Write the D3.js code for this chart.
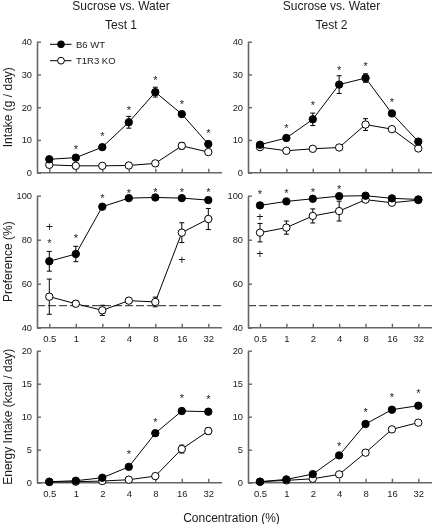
<!DOCTYPE html>
<html><head><meta charset="utf-8">
<script src="https://cdn.jsdelivr.net/npm/d3@7"></script>
<style>
body{margin:0;background:#fff;}
svg{display:block;font-family:"Liberation Sans",Arial,sans-serif;opacity:0.999;will-change:transform;-webkit-font-smoothing:antialiased;}
</style></head>
<body><svg id="c" width="433" height="524"></svg>
<script>
const categories = ["0.5","1","2","4","8","16","32"];

// Intake (g/day)
const intakeT1WT = [4.1,4.6,7.8,15.4,24.6,17.9,8.75];
const intakeT1WTerr = [0.3,0.4,0.5,1.8,1.5,0.6,0.6];
const intakeT1KO = [2.4,2.1,2.1,2.2,2.85,8.2,6.3];
const intakeT1KOerr = [0.3,0.3,0.3,0.3,0.4,1.0,0.6];
const intakeT2WT = [8.55,10.6,16.3,26.9,28.9,18.1,9.5];
const intakeT2WTerr = [0.5,0.6,1.9,2.7,1.3,0.7,0.6];
const intakeT2KO = [7.8,6.7,7.3,7.7,14.7,13.3,7.4];
const intakeT2KOerr = [0.5,0.5,0.5,0.5,1.8,0.6,0.6];

// Preference (%)
const prefT1WT = [70.2,73.5,95,98.9,99.2,98.9,98.0];
const prefT1WTerr = [4.5,3.5,1,0.5,0.5,0.5,0.8];
const prefT1KO = [54.1,50.9,47.9,52.3,51.7,83.2,89.4];
const prefT1KOerr = [8,1.2,2.3,0.8,2.2,4.5,4.8];
const prefT2WT = [95.6,97.4,98.6,99.8,100,98.8,98.3];
const prefT2WTerr = [1.2,0.8,0.6,0.5,0.4,0.6,0.5];
const prefT2KO = [83.2,85.5,90.8,93,98.2,96.8,98];
const prefT2KOerr = [4.2,3,3.2,4.5,1,0.8,0.8];

// Energy intake (kcal/day)
const energyT1WT = [0.15,0.3,0.75,2.4,7.5,10.86,10.76];
const energyT1WTerr = [0.05,0.05,0.1,0.2,0.3,0.3,0.3];
const energyT1KO = [0.1,0.15,0.25,0.45,1.0,5.1,7.83];
const energyT1KOerr = [0.05,0.05,0.05,0.1,0.2,0.6,0.5];
const energyT2WT = [0.15,0.5,1.3,4.14,8.9,11.06,11.67];
const energyT2WTerr = [0.05,0.1,0.2,0.3,0.3,0.3,0.3];
const energyT2KO = [0.15,0.35,0.6,1.26,4.55,8.08,9.1];
const energyT2KOerr = [0.05,0.05,0.1,0.2,0.4,0.3,0.3];

// significance marks (level where the mark sits, null = none)
const starIntakeT1 = [null,7.9,12.0,19.8,29.0,21.7,12.7];
const starIntakeT2 = [null,14.25,21.5,32.2,33.2,22.4,null];
const starPrefT1 = [79.4,81.8,100,102.3,102.6,102.9,102.6];
const starPrefT2 = [101.8,102.4,102.9,104.1,null,null,null];
const starEnergyT1 = [null,null,null,4.7,9.6,13.2,13.0];
const starEnergyT2 = [null,null,null,5.96,11.1,13.4,14.0];
const crossPrefT1 = [[0,85.8],[5,71]];
const crossPrefT2 = [[0,90.5],[0,73.8]];

const intakeTicks = [0,10,20,30,40];
const prefTicks = [40,60,80,100];
const energyTicks = [0,5,10,15,20];

const titles = ["Sucrose vs. Water","Sucrose vs. Water"];
const subtitles = ["Test 1","Test 2"];
const yTitles = ["Intake (g / day)","Preference (%)","Energy Intake (kcal / day)"];
const legendLabels = ["B6 WT","T1R3 KO"];
const xTitle = "Concentration (%)";

const svg = d3.select("#c");
const AX = "#666", TXT = "#1a1a1a";

const cols = [
  {axisX:37, xEnd:222, r0:49.3, r1:208.3},
  {axisX:248, xEnd:432, r0:260, r1:418.3}
];
const rows = [
  {dom:[0,40], y0:172.7, y1:41.7, ticks:intakeTicks, xlabels:false},
  {dom:[40,100], y0:327.7, y1:195.7, ticks:prefTicks, xlabels:true, ref:50},
  {dom:[0,20], y0:482.7, y1:350.7, ticks:energyTicks, xlabels:true}
];
const panels = [
  [ {wt:intakeT1WT,wte:intakeT1WTerr,ko:intakeT1KO,koe:intakeT1KOerr,stars:starIntakeT1,crosses:[]},
    {wt:intakeT2WT,wte:intakeT2WTerr,ko:intakeT2KO,koe:intakeT2KOerr,stars:starIntakeT2,crosses:[]} ],
  [ {wt:prefT1WT,wte:prefT1WTerr,ko:prefT1KO,koe:prefT1KOerr,stars:starPrefT1,crosses:crossPrefT1},
    {wt:prefT2WT,wte:prefT2WTerr,ko:prefT2KO,koe:prefT2KOerr,stars:starPrefT2,crosses:crossPrefT2} ],
  [ {wt:energyT1WT,wte:energyT1WTerr,ko:energyT1KO,koe:energyT1KOerr,stars:starEnergyT1,crosses:[]},
    {wt:energyT2WT,wte:energyT2WTerr,ko:energyT2KO,koe:energyT2KOerr,stars:starEnergyT2,crosses:[]} ]
];

rows.forEach((row, ri) => {
  cols.forEach((col, ci) => {
    const p = panels[ri][ci];
    const x = d3.scalePoint().domain(categories).range([col.r0, col.r1]);
    const y = d3.scaleLinear().domain(row.dom).range([row.y0, row.y1]);
    const g = svg.append("g");

    // reference dashed line
    if (row.ref !== undefined) {
      g.append("line").attr("x1", col.axisX).attr("x2", ci===0 ? 223 : 433)
        .attr("y1", y(row.ref)).attr("y2", y(row.ref))
        .attr("stroke", "#222").attr("stroke-width", 1).attr("stroke-dasharray", "8,3");
    }

    // y axis
    const ya = g.append("g").attr("transform", `translate(${col.axisX},0)`)
      .call(d3.axisLeft(y).tickValues(row.ticks).tickSizeInner(-4).tickSizeOuter(0).tickPadding(5));
    ya.select(".domain").attr("stroke", AX).attr("stroke-width", 1.6);
    ya.selectAll(".tick line").attr("stroke", AX).attr("stroke-width", 1.4);
    ya.selectAll("text").attr("font-size", 9.3).attr("fill", TXT).attr("font-family", "Liberation Sans, Arial, sans-serif");

    // x axis
    const xa = g.append("g").attr("transform", `translate(0,${row.y0})`)
      .call(d3.axisBottom(x).tickSizeInner(-4).tickSizeOuter(0).tickPadding(8));
    xa.select(".domain").remove();
    xa.selectAll(".tick line").attr("stroke", AX).attr("stroke-width", 1.4);
    xa.selectAll("text").attr("font-size", 9.5).attr("fill", TXT).attr("font-family", "Liberation Sans, Arial, sans-serif");
    if (!row.xlabels) xa.selectAll("text").remove();
    g.append("line").attr("x1", col.axisX).attr("x2", col.xEnd)
      .attr("y1", row.y0).attr("y2", row.y0).attr("stroke", AX).attr("stroke-width", 1.6);

    const line = d3.line().x((d,i) => x(categories[i])).y(d => y(d));
    [[p.ko,p.koe,"#fff"],[p.wt,p.wte,"#000"]].forEach(([vals, errs, fill]) => {
      g.append("path").datum(vals).attr("d", line).attr("fill","none").attr("stroke","#000").attr("stroke-width",1);
      vals.forEach((v,i) => {
        const cx = x(categories[i]);
        const e = errs[i];
        g.append("line").attr("x1",cx).attr("x2",cx).attr("y1",y(v-e)).attr("y2",y(v+e)).attr("stroke","#000").attr("stroke-width",1);
        [v-e, v+e].forEach(w => g.append("line").attr("x1",cx-2.5).attr("x2",cx+2.5).attr("y1",y(w)).attr("y2",y(w)).attr("stroke","#000").attr("stroke-width",1));
      });
      g.selectAll(null).data(vals).enter().append("circle")
        .attr("cx",(d,i)=>x(categories[i])).attr("cy",d=>y(d)).attr("r",3.7)
        .attr("fill",fill).attr("stroke","#000").attr("stroke-width",1);
    });

    // stars
    p.stars.forEach((s,i) => {
      if (s === null) return;
      g.append("text").attr("x", x(categories[i])).attr("y", y(s) + 6.3)
        .attr("text-anchor","middle").attr("font-size", 11).attr("fill", TXT).text("*");
    });
    p.crosses.forEach(([i,s]) => {
      g.append("text").attr("x", x(categories[i])).attr("y", y(s) + 4.2)
        .attr("text-anchor","middle").attr("font-size", 12.5).attr("fill", TXT).text("+");
    });

    // y title for left column
    if (ci === 0) {
      svg.append("text").attr("transform", `translate(12,${(row.y0+row.y1)/2}) rotate(-90)`)
        .attr("text-anchor","middle").attr("font-size",12).attr("fill",TXT).text(yTitles[ri]);
    }
  });
});

// titles
[121, 331.5].forEach((cx, i) => {
  svg.append("text").attr("x",cx).attr("y",10.3).attr("text-anchor","middle").attr("font-size",12).attr("fill",TXT).text(titles[i]);
  svg.append("text").attr("x",cx).attr("y",28.5).attr("text-anchor","middle").attr("font-size",12).attr("fill",TXT).text(subtitles[i]);
});

// legend
const legY = [44.3, 60.7];
legendLabels.forEach((lab, i) => {
  svg.append("line").attr("x1",50).attr("x2",71.5).attr("y1",legY[i]).attr("y2",legY[i]).attr("stroke","#000").attr("stroke-width",1);
  svg.append("circle").attr("cx",61).attr("cy",legY[i]).attr("r",3.4).attr("fill", i===0?"#000":"#fff").attr("stroke","#000").attr("stroke-width",1);
  svg.append("text").attr("x",76).attr("y",legY[i]+3.4).attr("font-size",9.5).attr("fill",TXT).text(lab);
});

svg.append("text").attr("x",231.5).attr("y",522).attr("text-anchor","middle").attr("font-size",12).attr("fill",TXT).text(xTitle);
</script>
</body></html>
